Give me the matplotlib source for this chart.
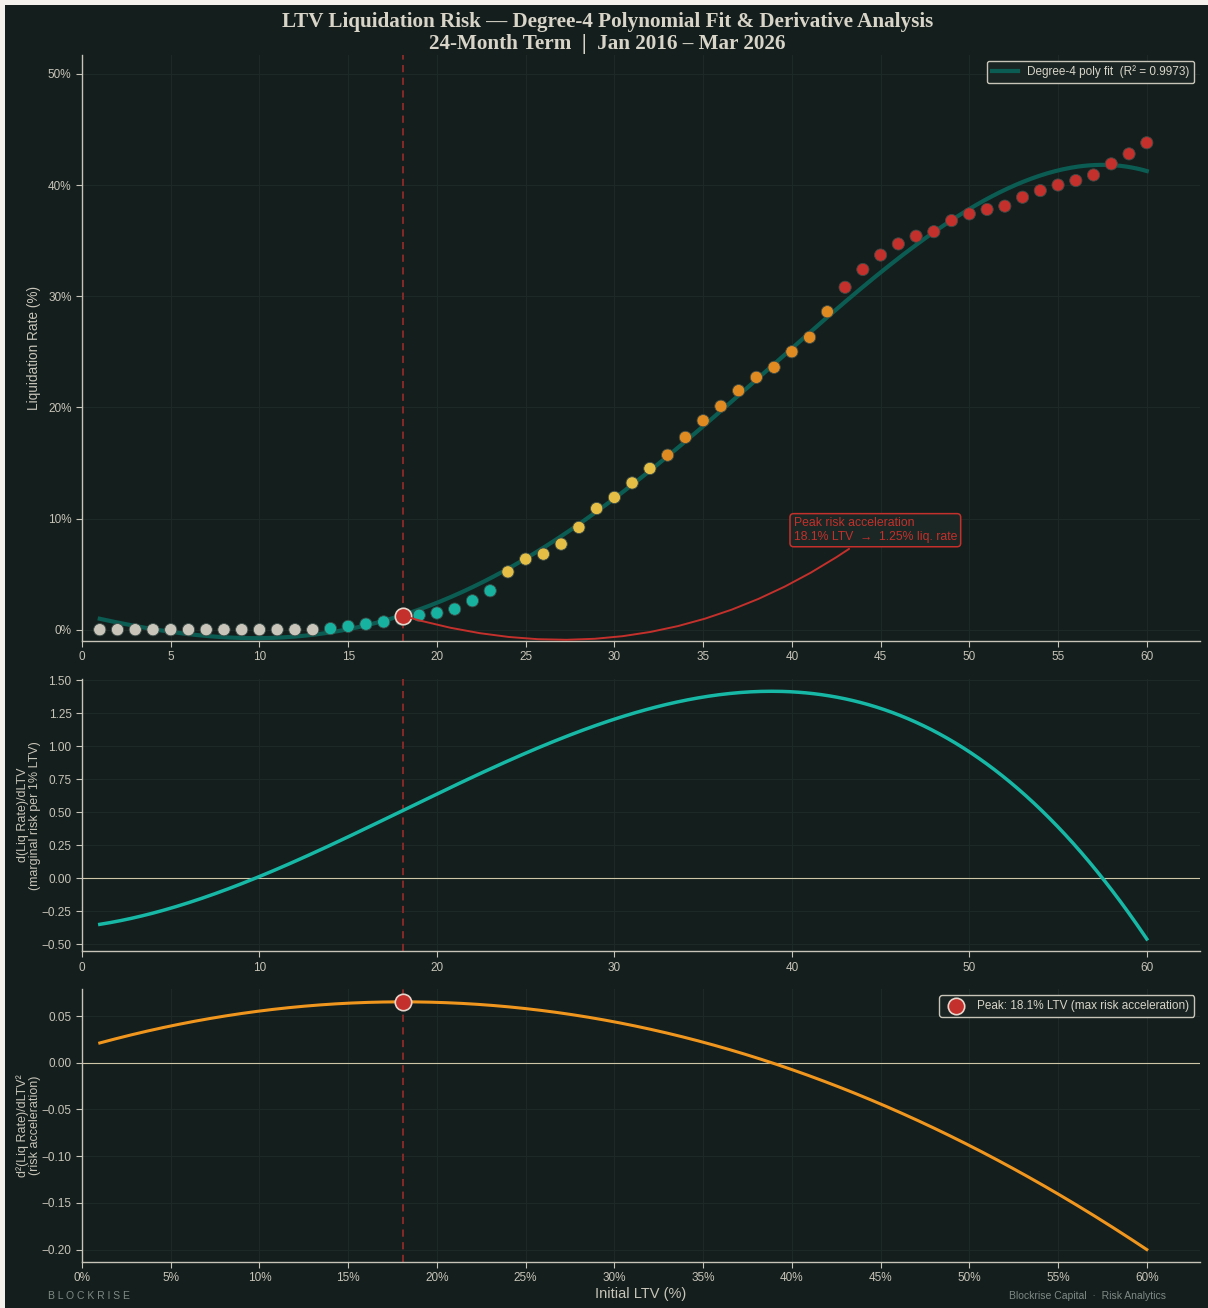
import numpy as np
import matplotlib
matplotlib.use('Agg')
import matplotlib.pyplot as plt
from matplotlib.patches import Rectangle
from matplotlib.ticker import MultipleLocator, FuncFormatter

# Initial LTV buckets (%) and observed liquidation rate per bucket (%)
ltv = list(range(1, 61))
liq_rate = [
    0.0, 0.0, 0.0, 0.0, 0.0, 0.0, 0.0, 0.0, 0.0, 0.0,
    0.0, 0.0, 0.0, 0.1, 0.3, 0.5, 0.7, 0.95, 1.3, 1.5,
    1.85, 2.6, 3.5, 5.2, 6.35, 6.8, 7.7, 9.2, 10.9, 11.9,
    13.2, 14.5, 15.7, 17.3, 18.8, 20.1, 21.5, 22.7, 23.6, 25.0,
    26.3, 28.6, 30.8, 32.4, 33.7, 34.7, 35.4, 35.8, 36.8, 37.4,
    37.8, 38.1, 38.9, 39.5, 40.0, 40.4, 40.9, 41.9, 42.8, 43.8,
]

# liquidation rate reported at the peak-acceleration LTV (%)
peak_rate = 1.25

# risk bands used to colour the observed points
band_edges = [5, 15, 30]

BG = '#131e1d'
FG = '#c8c4b8'
GRID = '#1d2a28'
RED = '#c4302b'
DARK_RED = '#8e2a27'
FIT = '#0b5c52'
TEAL = '#17b8a6'
ORANGE = '#f0961e'
POINT_COLORS = ['#c9c5ba', '#17b3a0', '#e5bf45', '#e08b22', '#c4302b']

plt.rcParams['font.family'] = ['Liberation Sans', 'DejaVu Sans']

x = np.array(ltv, dtype=float)
y = np.array(liq_rate)

# degree-4 polynomial fit and its derivatives
coeffs = np.polyfit(x, y, 4)
poly = np.poly1d(coeffs)
d1 = poly.deriv()
d2 = poly.deriv(2)
r2 = 1 - np.sum((y - poly(x)) ** 2) / np.sum((y - y.mean()) ** 2)

# second derivative is a parabola -> its vertex is the max acceleration
peak_x = -d2.coeffs[1] / (2 * d2.coeffs[0])
peak_acc = d2(peak_x)

xs = np.linspace(1, 60, 400)


def point_color(v):
    if v <= 0:
        return POINT_COLORS[0]
    for i, edge in enumerate(band_edges):
        if v < edge:
            return POINT_COLORS[i + 1]
    return POINT_COLORS[-1]


fig = plt.figure(figsize=(12.08, 13.08), dpi=100, facecolor='#f4f1ec')
fig.patches.append(Rectangle((5 / 1208, 0), 1, 1 - 5 / 1308, transform=fig.transFigure,
                             facecolor=BG, edgecolor='none', zorder=-10))
gs = fig.add_gridspec(3, 1, height_ratios=[2.15, 1, 1], left=0.0679, right=0.9934,
                      top=0.958, bottom=0.0352, hspace=0.101)
ax1 = fig.add_subplot(gs[0])
ax2 = fig.add_subplot(gs[1])
ax3 = fig.add_subplot(gs[2])

for ax in (ax1, ax2, ax3):
    ax.set_facecolor(BG)
    for side in ('top', 'right'):
        ax.spines[side].set_visible(False)
    for side in ('left', 'bottom'):
        ax.spines[side].set_color(FG)
        ax.spines[side].set_linewidth(1.0)
    ax.tick_params(colors=FG, labelsize=8.5, length=4)
    ax.grid(True, color=GRID, linewidth=0.7)
    ax.set_axisbelow(True)
    ax.set_xlim(0, 63)
    ax.axvline(peak_x, color=DARK_RED, linestyle=(0, (4, 3)), linewidth=1.3, zorder=1)

# --- top: observed rates + fit
ax1.plot(xs, poly(xs), color=FIT, linewidth=3,
         label=f'Degree-4 poly fit  (R\u00b2 = {r2:.4f})', zorder=2)
ax1.scatter(x, y, s=78, c=[point_color(v) for v in liq_rate], edgecolors='#3a4a46',
            linewidths=0.6, zorder=3)
ax1.scatter([peak_x], [peak_rate], s=140, color=RED, edgecolors='#e6d6cc', linewidths=1.2, zorder=5)
ax1.annotate(f'Peak risk acceleration\n{peak_x:.1f}% LTV  \u2192  {peak_rate:.2f}% liq. rate',
             xy=(peak_x, peak_rate), xytext=(40.1, 8.95), color=RED, fontsize=8.8,
             ha='left', va='center',
             bbox=dict(boxstyle='round,pad=0.3', fc='#1a2725', ec=RED, lw=1.1),
             arrowprops=dict(arrowstyle='-', color=RED, lw=1.4,
                             connectionstyle='arc3,rad=-0.25'), zorder=6)
ax1.set_ylim(-1, 51.7)
ax1.xaxis.set_major_locator(MultipleLocator(5))
ax1.yaxis.set_major_locator(MultipleLocator(10))
ax1.yaxis.set_major_formatter(FuncFormatter(lambda v, p: f'{v:.0f}%'))
ax1.set_ylabel('Liquidation Rate (%)', color=FG, fontsize=9.8)
ax1.legend(loc='upper right', fontsize=8.5, facecolor='#1a2523', edgecolor=FG,
           labelcolor='#d8d4c8', framealpha=1, handlelength=2.2)

# --- middle: first derivative
ax2.plot(xs, d1(xs), color=TEAL, linewidth=2.5, zorder=3)
ax2.axhline(0, color='#cfc6a8', linewidth=0.8, zorder=2)
ax2.xaxis.set_major_locator(MultipleLocator(10))
ax2.yaxis.set_major_locator(MultipleLocator(0.25))
ax2.yaxis.set_major_formatter(FuncFormatter(lambda v, p: f'{v:.2f}'.replace('-', '\u2212')))
ax2.set_ylabel('d(Liq Rate)/dLTV\n(marginal risk per 1% LTV)', color=FG, fontsize=9,
               linespacing=1.0)

# --- bottom: second derivative
ax3.plot(xs, d2(xs), color=ORANGE, linewidth=2.2, zorder=3)
ax3.axhline(0, color='#cfc6a8', linewidth=0.8, zorder=2)
ax3.scatter([peak_x], [peak_acc], s=140, color=RED, edgecolors='#e6d6cc', linewidths=1.2,
            zorder=5, label=f'Peak: {peak_x:.1f}% LTV (max risk acceleration)')
ax3.xaxis.set_major_locator(MultipleLocator(5))
ax3.xaxis.set_major_formatter(FuncFormatter(lambda v, p: f'{v:.0f}%'))
ax3.yaxis.set_major_locator(MultipleLocator(0.05))
ax3.yaxis.set_major_formatter(FuncFormatter(lambda v, p: f'{v:.2f}'.replace('-', '\u2212')))
ax3.set_ylabel('d\u00b2(Liq Rate)/dLTV\u00b2\n(risk acceleration)', color=FG, fontsize=9,
               linespacing=1.0)
ax3.set_xlabel('Initial LTV (%)', color=FG, fontsize=10.5, labelpad=2)
ax3.legend(loc='upper right', fontsize=8.5, facecolor='#1a2523', edgecolor=FG,
           labelcolor='#d8d4c8', framealpha=1)

# keep the y labels close to their tick labels
for ax in (ax1, ax2, ax3):
    ax.yaxis.set_label_coords(-0.037, 0.5)

fig.suptitle('LTV Liquidation Risk \u2014 Degree-4 Polynomial Fit & Derivative Analysis\n'
             '24-Month Term  |  Jan 2016 \u2013 Mar 2026',
             x=0.503, y=0.991, va='top', color='#d8d4c8', fontsize=15.2, fontweight='bold',
             family='Liberation Serif', linespacing=1.15)

fig.text(0.04, 0.009, 'B L O C K R I S E', color='#7f8a86', fontsize=7.5, ha='left', va='center')
fig.text(0.965, 0.009, 'Blockrise Capital  \u00b7  Risk Analytics', color='#7f8a86',
         fontsize=7.5, ha='right', va='center')

fig.savefig('out.png', dpi=100, facecolor=fig.get_facecolor())
